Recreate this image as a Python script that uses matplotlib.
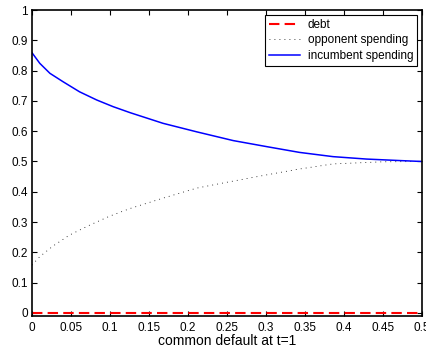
import numpy as np
import matplotlib.pyplot as plt

plt.rcParams['font.family'] = ['Liberation Sans', 'DejaVu Sans']

# values
t_inc = [0, 0.010, 0.023, 0.040, 0.061, 0.083, 0.104, 0.126, 0.168, 0.211, 0.258, 0.301, 0.343, 0.386, 0.429, 0.472, 0.5]
incumbent = [0.859, 0.824, 0.791, 0.763, 0.730, 0.703, 0.681, 0.661, 0.626, 0.598, 0.569, 0.549, 0.530, 0.516, 0.508, 0.503, 0.5]
t_opp = [0, 0.010, 0.027, 0.048, 0.074, 0.100, 0.126, 0.168, 0.211, 0.249, 0.297, 0.340, 0.386, 0.450, 0.5]
opponent = [0.158, 0.186, 0.221, 0.257, 0.290, 0.320, 0.345, 0.379, 0.412, 0.431, 0.454, 0.474, 0.492, 0.499, 0.5]
t_debt = [0, 0.5]
debt = [0.0, 0.0]

xticks = np.arange(0, 0.5001, 0.05)
xticklabels = ['0', '0.05', '0.1', '0.15', '0.2', '0.25', '0.3', '0.35', '0.4', '0.45', '0.5']
yticks = np.arange(0, 1.0001, 0.1)
yticklabels = ['0', '0.1', '0.2', '0.3', '0.4', '0.5', '0.6', '0.7', '0.8', '0.9', '1']

fig = plt.figure(figsize=(4.27, 3.51), dpi=100)
ax = fig.add_axes([0.0749, 0.0997, 0.9133, 0.8718])

ax.plot(t_debt, debt, color='red', linestyle=(0, (5, 2.5)), linewidth=1.5, label='debt')
ax.plot(t_opp, opponent, color='black', linestyle=(0, (1, 5)), linewidth=0.6, label='opponent spending')
ax.plot(t_inc, incumbent, color='blue', linewidth=1.1, label='incumbent spending')

ax.set_xlim(0, 0.5)
ax.set_ylim(-0.01, 1)
ax.set_xticks(xticks)
ax.set_xticklabels(xticklabels)
ax.set_yticks(yticks)
ax.set_yticklabels(yticklabels)
ax.tick_params(direction='in', top=True, right=True, labelsize=8.5, length=3.5, width=0.8, pad=3)
ax.tick_params(axis='x', pad=4)
for s in ax.spines.values():
    s.set_linewidth(1.2)
ax.set_xlabel('common default at t=1', fontsize=10, labelpad=0)

leg = ax.legend(loc='upper right', fontsize=8.5, fancybox=False, framealpha=1,
                edgecolor='black', borderaxespad=0.4, handlelength=2.65,
                borderpad=0.35, labelspacing=0.3, handletextpad=0.65)
leg.get_frame().set_linewidth(0.8)

fig.savefig('out.png', dpi=100)
